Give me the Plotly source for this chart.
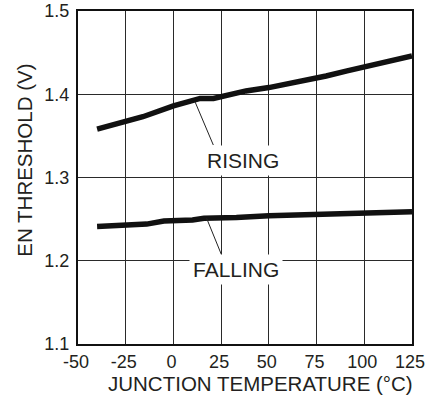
import plotly.graph_objects as go

# Data
rising_temp = [-40, -25, -16, 0, 14, 21, 25, 38, 50, 63, 73, 80, 91, 100, 125]
rising_v = [1.358, 1.367, 1.373, 1.386, 1.395, 1.395, 1.397, 1.404, 1.408, 1.414, 1.418, 1.422, 1.428, 1.433, 1.446]

falling_temp = [-40, -25, -14, -5, 0, 10, 16, 21, 33, 50, 75, 100, 125]
falling_v = [1.241, 1.242, 1.244, 1.2477, 1.248, 1.249, 1.251, 1.251, 1.252, 1.254, 1.2558, 1.257, 1.259]

x_ticks = [-50, -25, 0, 25, 50, 75, 100, 125]
y_ticks = [1.1, 1.2, 1.3, 1.4, 1.5]

# Label positions (data coords) and leader lines
rising_label = ("RISING", 36.5, 1.321)
rising_leader = ([11.3, 20.9], [1.391, 1.339])
falling_label = ("FALLING", 32.7, 1.190)
falling_leader = ([17.4, 26.1], [1.251, 1.202])

FONT = "Liberation Sans, Arial, sans-serif"
TXT = "#231f20"

fig = go.Figure()
fig.add_trace(go.Scatter(x=rising_temp, y=rising_v, mode="lines",
                         line=dict(color="#111", width=5.5), showlegend=False, name="RISING"))
fig.add_trace(go.Scatter(x=falling_temp, y=falling_v, mode="lines",
                         line=dict(color="#111", width=5.5), showlegend=False, name="FALLING"))

for lx, ly in (rising_leader, falling_leader):
    fig.add_shape(type="line", xref="x", yref="y", x0=lx[0], y0=ly[0], x1=lx[1], y1=ly[1],
                  line=dict(color="#222", width=1))

for text, tx, ty in (rising_label, falling_label):
    fig.add_annotation(x=tx, y=ty, xref="x", yref="y", text=text, showarrow=False,
                       font=dict(family=FONT, size=21, color=TXT),
                       bgcolor="white", borderpad=3)

# Axis titles
fig.add_annotation(x=0.547, y=-0.12, xref="paper", yref="paper", text="JUNCTION TEMPERATURE (°C)",
                   showarrow=False, font=dict(family=FONT, size=20.5, color=TXT),
                   xanchor="center", yanchor="middle")
fig.add_annotation(x=-0.159, y=0.553, xref="paper", yref="paper", text="EN THRESHOLD (V)",
                   showarrow=False, textangle=-90, font=dict(family=FONT, size=20.5, color=TXT),
                   xanchor="center", yanchor="middle")

fig.update_xaxes(range=[-50, 125], tickvals=x_ticks, ticktext=[str(v) for v in x_ticks],
                 showgrid=True, gridcolor="#2a2a2a", gridwidth=1,
                 showline=True, linecolor="#111", linewidth=2, mirror=True,
                 ticks="", zeroline=False, automargin=False, ticklabelshift=-2,
                 ticklabeloverflow="allow",
                 tickfont=dict(family=FONT, size=18, color=TXT))
fig.update_yaxes(range=[1.1, 1.5], tickvals=y_ticks, ticktext=[f"{v:.1f}" for v in y_ticks],
                 showgrid=True, gridcolor="#2a2a2a", gridwidth=1,
                 showline=True, linecolor="#111", linewidth=2, mirror=True,
                 ticks="", zeroline=False, ticklabelstandoff=3, automargin=False,
                 tickfont=dict(family=FONT, size=18, color=TXT))

fig.update_layout(width=426, height=400, margin=dict(l=78, r=14, t=11, b=56),
                  plot_bgcolor="white", paper_bgcolor="white")

fig.write_html("out.html", config={"displayModeBar": False},
               post_script="document.body.style.margin='0';document.body.style.padding='0';")
